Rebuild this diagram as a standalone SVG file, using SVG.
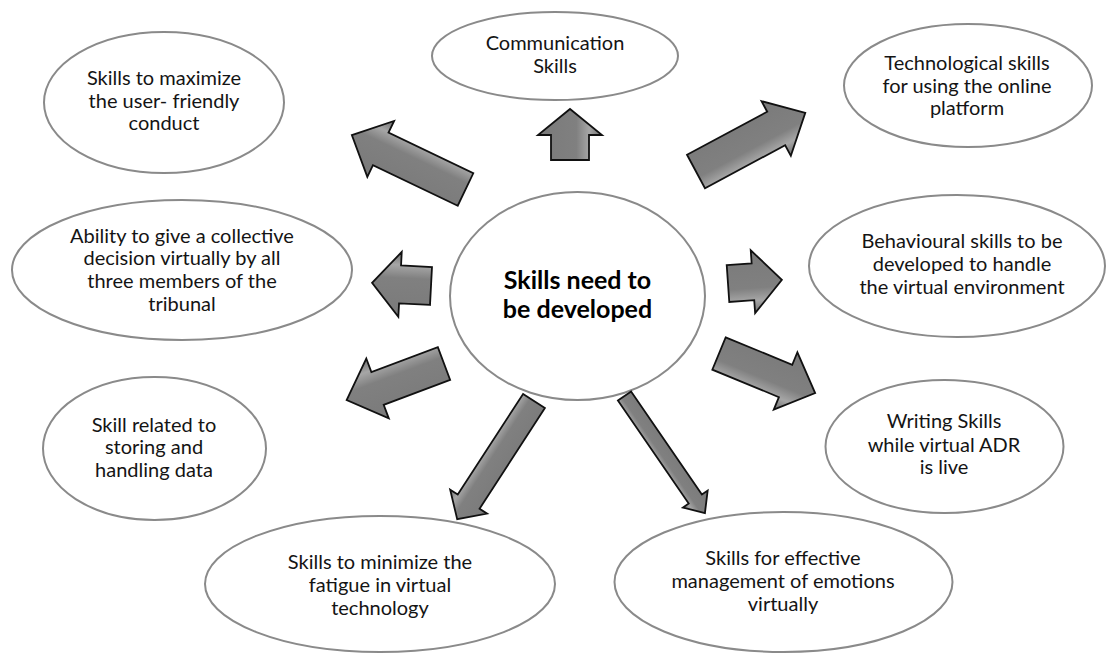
<svg xmlns="http://www.w3.org/2000/svg" width="1106" height="653" viewBox="0 0 1106 653">
  <style>
    .node ellipse { fill: #ffffff; stroke: #8a8a8a; stroke-width: 2; }
    .node text { font-family: Lato, "Liberation Sans", sans-serif; font-size: 20px; fill: #141414; text-anchor: middle; }
    #hub text { font-size: 25px; font-weight: bold; fill: #000000; }
    .arrow { fill: url(#arrowFill); stroke: #111111; stroke-width: 1.8; stroke-linejoin: miter; }
  </style>
  <defs>
    <linearGradient id="arrowFill" x1="0" y1="0" x2="0" y2="1">
      <stop offset="0" stop-color="#7a7a7a"/>
      <stop offset="0.6" stop-color="#808080"/>
      <stop offset="0.8" stop-color="#a6a6a6"/>
      <stop offset="0.9" stop-color="#8a8a8a"/>
      <stop offset="1" stop-color="#707070"/>
    </linearGradient>
  </defs>

  <rect width="1106" height="653" fill="#ffffff"/>

  <!-- hub -->
  <g id="hub" class="node">
    <ellipse cx="577.5" cy="296" rx="127.5" ry="104"/>
    <text x="577.5" y="289">Skills need to</text>
    <text x="577.5" y="318">be developed</text>
  </g>

  <!-- skill nodes -->
  <g id="communication" class="node">
    <ellipse cx="555" cy="56" rx="123" ry="44"/>
    <text x="555" y="50">Communication</text>
    <text x="555" y="73">Skills</text>
  </g>
  <g id="user-friendly" class="node">
    <ellipse cx="164" cy="102.5" rx="120" ry="70.5"/>
    <text x="164" y="85">Skills to maximize</text>
    <text x="164" y="108">the user- friendly</text>
    <text x="164" y="130">conduct</text>
  </g>
  <g id="technological" class="node">
    <ellipse cx="968" cy="85.5" rx="124" ry="61.5"/>
    <text x="967" y="70">Technological skills</text>
    <text x="967" y="93">for using the online</text>
    <text x="967" y="115">platform</text>
  </g>
  <g id="collective-decision" class="node">
    <ellipse cx="182" cy="270" rx="170" ry="70"/>
    <text x="182" y="243">Ability to give a collective</text>
    <text x="182" y="265">decision virtually by all</text>
    <text x="182" y="288">three members of the</text>
    <text x="182" y="311">tribunal</text>
  </g>
  <g id="behavioural" class="node">
    <ellipse cx="957" cy="266" rx="148" ry="71"/>
    <text x="962" y="248">Behavioural skills to be</text>
    <text x="962" y="271">developed to handle</text>
    <text x="962" y="294">the virtual environment</text>
  </g>
  <g id="data-handling" class="node">
    <ellipse cx="154.5" cy="448.5" rx="111.5" ry="71.5"/>
    <text x="154" y="432">Skill related to</text>
    <text x="154" y="454">storing and</text>
    <text x="154" y="477">handling data</text>
  </g>
  <g id="writing" class="node">
    <ellipse cx="944.5" cy="446.5" rx="119" ry="66.5"/>
    <text x="944" y="428">Writing Skills</text>
    <text x="944" y="452">while virtual ADR</text>
    <text x="944" y="474">is live</text>
  </g>
  <g id="fatigue" class="node">
    <ellipse cx="380" cy="584" rx="175" ry="68"/>
    <text x="380" y="569">Skills to minimize the</text>
    <text x="380" y="592">fatigue in virtual</text>
    <text x="380" y="615">technology</text>
  </g>
  <g id="emotions" class="node">
    <ellipse cx="783.5" cy="582" rx="169" ry="70"/>
    <text x="783" y="565">Skills for effective</text>
    <text x="783" y="588">management of emotions</text>
    <text x="783" y="611">virtually</text>
  </g>

  <!-- block arrows radiating from the hub; each drawn pointing right, then placed -->
  <g id="connectors">
    <path class="arrow" transform="translate(570,160) rotate(-90)" d="M0,-19 L25,-19 L25,-32 L51,0 L25,32 L25,19 L0,19 Z"/>
    <path class="arrow" transform="translate(465.5,189.5) rotate(-154.4)" d="M0,-18 L94,-18 L94,-31 L126,0 L94,31 L94,18 L0,18 Z"/>
    <path class="arrow" transform="translate(696,171.5) rotate(-28.2)" d="M0,-19 L91,-19 L91,-31 L124,0 L91,31 L91,19 L0,19 Z"/>
    <path class="arrow" transform="translate(431,286) rotate(183)" d="M0,-19 L31,-19 L31,-32.5 L59,0 L31,32.5 L31,19 L0,19 Z"/>
    <path class="arrow" transform="translate(728,283.5) rotate(-4)" d="M0,-18.5 L25,-18.5 L25,-31.5 L54,0 L25,31.5 L25,18.5 L0,18.5 Z"/>
    <path class="arrow" transform="translate(444,363.5) rotate(159.4)" d="M0,-17.5 L71,-17.5 L71,-32 L104,0 L71,32 L71,17.5 L0,17.5 Z"/>
    <path class="arrow" transform="translate(719,353.5) rotate(22.4)" d="M0,-17.5 L72,-17.5 L72,-31 L104,0 L72,31 L72,17.5 L0,17.5 Z"/>
    <path class="arrow" transform="translate(534,401) rotate(123)" d="M0,-13 L120,-13 L120,-22 L141,0 L120,22 L120,13 L0,13 Z"/>
    <path class="arrow" transform="translate(624.5,396) rotate(55.5)" d="M0,-8 L125,-8 L125,-15 L142,0 L125,15 L125,8 L0,8 Z"/>
  </g>
</svg>
